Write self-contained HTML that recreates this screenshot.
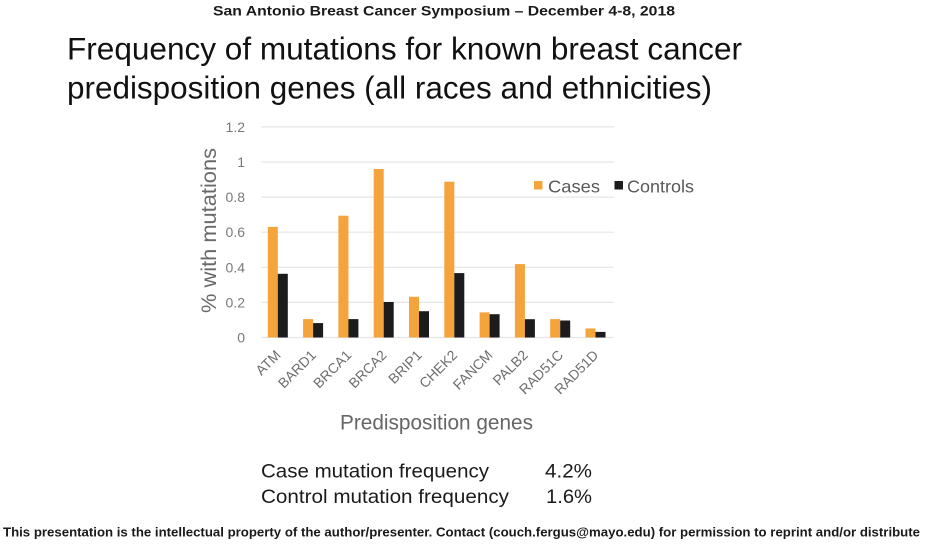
<!DOCTYPE html>
<html>
<head>
<meta charset="utf-8">
<style>
  html, body { margin: 0; padding: 0; background: #ffffff; }
  body { width: 940px; height: 548px; overflow: hidden; }
  svg { display: block; }
  text { font-family: "Liberation Sans", Arial, sans-serif; }
</style>
</head>
<body>
<svg width="940" height="548" viewBox="0 0 940 548" xmlns="http://www.w3.org/2000/svg">
  <rect x="0" y="0" width="940" height="548" fill="#ffffff"/>

  <!-- Header -->
  <text x="213" y="15.5" font-size="14" font-weight="bold" fill="#1a1a1a" textLength="462" lengthAdjust="spacingAndGlyphs">San Antonio Breast Cancer Symposium – December 4-8, 2018</text>

  <!-- Title -->
  <text x="67" y="59.5" font-size="31.5" fill="#111" textLength="675" lengthAdjust="spacingAndGlyphs">Frequency of mutations for known breast cancer</text>
  <text x="67" y="98.5" font-size="31.5" fill="#111" textLength="645" lengthAdjust="spacingAndGlyphs">predisposition genes (all races and ethnicities)</text>

  <!-- Gridlines -->
  <g stroke="#e6e6e6" stroke-width="1.2">
    <line x1="261" y1="126.9" x2="614" y2="126.9"/>
    <line x1="261" y1="162" x2="614" y2="162"/>
    <line x1="261" y1="197.1" x2="614" y2="197.1"/>
    <line x1="261" y1="232.2" x2="614" y2="232.2"/>
    <line x1="261" y1="267.3" x2="614" y2="267.3"/>
    <line x1="261" y1="302.4" x2="614" y2="302.4"/>
    <line x1="261" y1="337.5" x2="614" y2="337.5"/>
  </g>

  <!-- Y tick labels -->
  <g font-size="14" fill="#7a7a7a" text-anchor="end">
    <text x="245" y="131.9">1.2</text>
    <text x="245" y="167">1</text>
    <text x="245" y="202.1">0.8</text>
    <text x="245" y="237.2">0.6</text>
    <text x="245" y="272.3">0.4</text>
    <text x="245" y="307.4">0.2</text>
    <text x="245" y="342.5">0</text>
  </g>

  <!-- Y axis title -->
  <text transform="translate(216,230.5) rotate(-90)" text-anchor="middle" font-size="21" fill="#6a6a6a" textLength="165" lengthAdjust="spacingAndGlyphs">% with mutations</text>

  <!-- Cases bars -->
  <g fill="#f5a33b">
    <rect x="267.8" y="226.9" width="10" height="110.6"/>
    <rect x="303.1" y="319.1" width="10" height="18.4"/>
    <rect x="338.4" y="215.7" width="10" height="121.8"/>
    <rect x="373.7" y="169.0" width="10" height="168.5"/>
    <rect x="409.0" y="296.8" width="10" height="40.7"/>
    <rect x="444.3" y="181.7" width="10" height="155.8"/>
    <rect x="479.6" y="312.4" width="10" height="25.1"/>
    <rect x="514.9" y="264.1" width="10" height="73.4"/>
    <rect x="550.2" y="319.1" width="10" height="18.4"/>
    <rect x="585.5" y="328.5" width="10" height="9.0"/>
  </g>

  <!-- Controls bars -->
  <g fill="#1c1c1c">
    <rect x="277.8" y="273.8" width="10" height="63.7"/>
    <rect x="313.1" y="323.1" width="10" height="14.4"/>
    <rect x="348.4" y="319.1" width="10" height="18.4"/>
    <rect x="383.7" y="302.0" width="10" height="35.5"/>
    <rect x="419.0" y="311.2" width="10" height="26.3"/>
    <rect x="454.3" y="273.1" width="10" height="64.4"/>
    <rect x="489.6" y="314.2" width="10" height="23.3"/>
    <rect x="524.9" y="319.2" width="10" height="18.3"/>
    <rect x="560.2" y="320.5" width="10" height="17.0"/>
    <rect x="595.5" y="331.9" width="10" height="5.6"/>
  </g>

  <!-- X tick labels -->
  <g font-size="14" fill="#6e6e6e" text-anchor="end">
    <text transform="translate(281.6,356) rotate(-45)">ATM</text>
    <text transform="translate(316.9,356) rotate(-45)">BARD1</text>
    <text transform="translate(352.2,356) rotate(-45)">BRCA1</text>
    <text transform="translate(387.5,356) rotate(-45)">BRCA2</text>
    <text transform="translate(422.8,356) rotate(-45)">BRIP1</text>
    <text transform="translate(458.1,356) rotate(-45)">CHEK2</text>
    <text transform="translate(493.4,356) rotate(-45)">FANCM</text>
    <text transform="translate(528.7,356) rotate(-45)">PALB2</text>
    <text transform="translate(564.0,356) rotate(-45)">RAD51C</text>
    <text transform="translate(599.3,356) rotate(-45)">RAD51D</text>
  </g>

  <!-- X axis title -->
  <text x="340" y="429.5" font-size="21" fill="#666" textLength="193" lengthAdjust="spacingAndGlyphs">Predisposition genes</text>

  <!-- Legend -->
  <rect x="534" y="181" width="8.5" height="8.5" fill="#f5a33b"/>
  <text x="548" y="192.5" font-size="17.5" fill="#595959" textLength="52" lengthAdjust="spacingAndGlyphs">Cases</text>
  <rect x="614.5" y="181" width="8.5" height="8.5" fill="#1c1c1c"/>
  <text x="627" y="192.5" font-size="17.5" fill="#595959" textLength="67" lengthAdjust="spacingAndGlyphs">Controls</text>

  <!-- Summary -->
  <text x="261" y="477.5" font-size="19.5" fill="#1a1a1a" textLength="228" lengthAdjust="spacingAndGlyphs">Case mutation frequency</text>
  <text x="545" y="477.5" font-size="19.5" fill="#1a1a1a" textLength="47" lengthAdjust="spacingAndGlyphs">4.2%</text>
  <text x="261" y="503" font-size="19.5" fill="#1a1a1a" textLength="248" lengthAdjust="spacingAndGlyphs">Control mutation frequency</text>
  <text x="546" y="503" font-size="19.5" fill="#1a1a1a" textLength="46" lengthAdjust="spacingAndGlyphs">1.6%</text>

  <!-- Footer -->
  <text x="3" y="536.7" font-size="13" font-weight="bold" fill="#1a1a1a" textLength="917" lengthAdjust="spacingAndGlyphs">This presentation is the intellectual property of the author/presenter.  Contact (couch.fergus@mayo.edu) for permission to reprint and/or distribute</text>
</svg>
</body>
</html>
